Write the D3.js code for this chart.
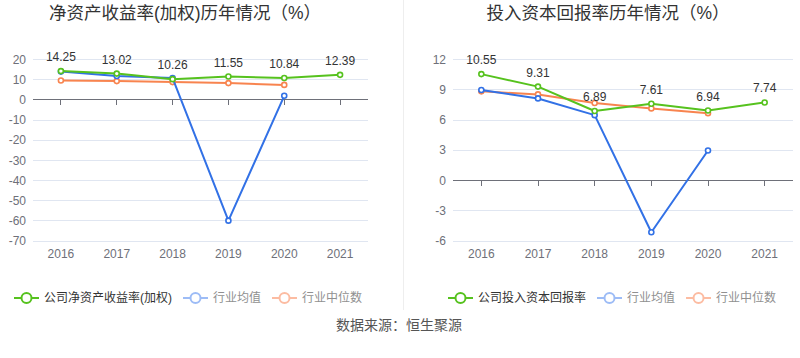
<!DOCTYPE html>
<html><head><meta charset="utf-8">
<script src="https://cdn.jsdelivr.net/npm/d3@7/dist/d3.min.js"></script>
<style>
html,body{margin:0;padding:0;background:#fff;}
svg{display:block;font-family:"Liberation Sans","Noto Sans CJK SC",sans-serif;}
</style></head>
<body><svg id="c" width="800" height="358"></svg>
<script>
const years = ["2016","2017","2018","2019","2020","2021"];

// Left chart: ROE (weighted)
const roeTitle = "净资产收益率(加权)历年情况（%）";
const roeCompanyName = "公司净资产收益率(加权)";
const roeCompany = [14.25, 13.02, 10.26, 11.55, 10.84, 12.39];
const roeAvg = [14.0, 11.8, 10.8, -59.9, 2.0, null];
const roeMedian = [9.6, 9.3, 8.8, 8.3, 7.4, null];
const roeTicks = [20, 10, 0, -10, -20, -30, -40, -50, -60, -70];

// Right chart: ROIC
const roicTitle = "投入资本回报率历年情况（%）";
const roicCompanyName = "公司投入资本回报率";
const roicCompany = [10.55, 9.31, 6.89, 7.61, 6.94, 7.74];
const roicAvg = [8.97, 8.14, 6.48, -5.13, 2.98, null];
const roicMedian = [8.84, 8.54, 7.68, 7.15, 6.68, null];
const roicTicks = [12, 9, 6, 3, 0, -3, -6];

const avgName = "行业均值";
const medianName = "行业中位数";
const sourceText = "数据来源：恒生聚源";

const C_GREEN = "#56c21e", C_BLUE = "#3271e6", C_ORANGE = "#f8844f";
const C_BLUE_L = "#9dbcf6", C_ORANGE_L = "#fcbca2";

const svg = d3.select("#c");

// divider
svg.append("line").attr("x1",403.5).attr("x2",403.5).attr("y1",0).attr("y2",310)
  .attr("stroke","#eeeeee").attr("stroke-width",1);

function drawChart(o){
  const g = svg.append("g");
  const x = d3.scalePoint().domain(years).range([o.x0, o.x1]).padding(0.5);
  const y = d3.scaleLinear().domain(o.domain).range([241, 59.5]);

  g.append("text").attr("x", o.titleX).attr("y", 19).attr("text-anchor","middle")
    .attr("font-size", 17.5).attr("fill","#333").text(o.title);

  // grid
  g.selectAll(".grid").data(o.ticks.filter(t=>t!==0)).enter().append("line")
    .attr("x1",o.x0).attr("x2",o.x1).attr("y1",d=>y(d)).attr("y2",d=>y(d))
    .attr("stroke","#e0e6f1").attr("stroke-width",1).attr("shape-rendering","crispEdges");
  // y labels
  g.selectAll(".yl").data(o.ticks).enter().append("text")
    .attr("x", o.x0 - 7).attr("y", d=>y(d)).attr("dy","0.35em").attr("text-anchor","end")
    .attr("font-size",12).attr("fill","#6e7079").text(d=>d);
  // zero axis
  g.append("line").attr("x1",o.x0).attr("x2",o.x1).attr("y1",y(0)).attr("y2",y(0))
    .attr("stroke","#6e7079").attr("stroke-width",1).attr("shape-rendering","crispEdges");
  g.selectAll(".tk").data(years).enter().append("line")
    .attr("x1",d=>x(d)).attr("x2",d=>x(d)).attr("y1",y(0)).attr("y2",y(0)+5)
    .attr("stroke","#6e7079").attr("stroke-width",1).attr("shape-rendering","crispEdges");
  // x labels
  g.selectAll(".xl").data(years).enter().append("text")
    .attr("x",d=>x(d)).attr("y",258).attr("text-anchor","middle")
    .attr("font-size",12).attr("fill","#6e7079").text(d=>d);

  const series = [
    {vals:o.median, color:C_ORANGE},
    {vals:o.avg, color:C_BLUE},
    {vals:o.company, color:C_GREEN}
  ];
  series.forEach(s=>{
    const pts = years.map((yr,i)=>({yr, v:s.vals[i]})).filter(p=>p.v!=null);
    const line = d3.line().x(p=>x(p.yr)).y(p=>y(p.v));
    g.append("path").attr("d", line(pts)).attr("fill","none")
      .attr("stroke", s.color).attr("stroke-width",2).attr("stroke-linejoin","round");
    g.selectAll(null).data(pts).enter().append("circle")
      .attr("cx",p=>x(p.yr)).attr("cy",p=>y(p.v)).attr("r",2.5)
      .attr("fill","#fff").attr("stroke",s.color).attr("stroke-width",1.6);
  });
  // data labels
  g.selectAll(".dl").data(o.company).enter().append("text")
    .attr("x",(d,i)=>x(years[i])).attr("y",d=>y(d)-10).attr("text-anchor","middle")
    .attr("font-size",12).attr("fill","#333").text(d=>d.toFixed(2));

  // legend
  const items = [
    {name:o.companyName, color:C_GREEN, text:"#333"},
    {name:avgName, color:C_BLUE_L, text:"#909090"},
    {name:medianName, color:C_ORANGE_L, text:"#909090"}
  ];
  let lx = o.legendX;
  const ly = 298;
  items.forEach(it=>{
    g.append("line").attr("x1",lx).attr("x2",lx+25).attr("y1",ly).attr("y2",ly)
      .attr("stroke",it.color).attr("stroke-width",2);
    g.append("circle").attr("cx",lx+12.5).attr("cy",ly).attr("r",5)
      .attr("fill","#fff").attr("stroke",it.color).attr("stroke-width",2);
    const t = g.append("text").attr("x",lx+30).attr("y",ly).attr("dy","0.35em")
      .attr("font-size",12).attr("fill",it.text).text(it.name);
    lx = lx + 30 + t.node().getComputedTextLength() + 11;
  });
}

drawChart({x0:33, x1:368, domain:[-70,20], ticks:roeTicks, title:roeTitle, titleX:185,
  company:roeCompany, avg:roeAvg, median:roeMedian, companyName:roeCompanyName, legendX:14});
drawChart({x0:453, x1:793, domain:[-6,12], ticks:roicTicks, title:roicTitle, titleX:608,
  company:roicCompany, avg:roicAvg, median:roicMedian, companyName:roicCompanyName, legendX:448});

svg.append("text").attr("x",399).attr("y",325).attr("dy","0.35em").attr("text-anchor","middle")
  .attr("font-size",14).attr("fill","#555").text(sourceText);
</script>
</body></html>
